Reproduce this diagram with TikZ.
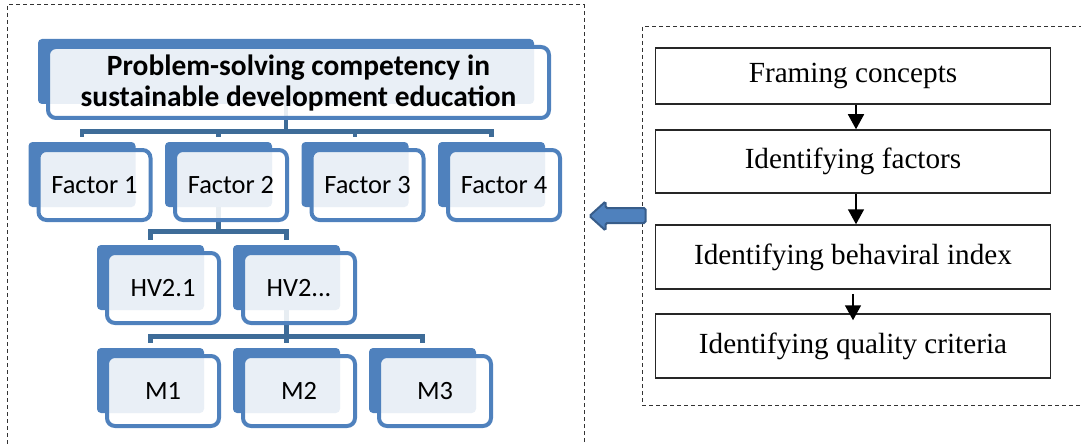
\documentclass[tikz,border=0pt]{standalone}
\usepackage{fontspec}
\setmainfont{Liberation Serif}
\newfontfamily\calibri{Carlito}
\usepackage{tikz}
\usetikzlibrary{positioning,calc,arrows.meta,backgrounds}
\definecolor{smblue}{RGB}{79,129,189}
\definecolor{smline}{RGB}{62,108,152}
\definecolor{smedge}{RGB}{56,93,138}

\begin{document}
\begin{tikzpicture}[x=0.5pt,y=-0.5pt,
    frame/.style={rectangle, draw=black!80, dash pattern=on 2pt off 1.5pt, line width=0.5pt, inner sep=0pt},
    back/.style={rectangle, fill=smblue, rounded corners=2pt, minimum width=53.5pt, minimum height=32.5pt, inner sep=0pt},
    front/.style={rectangle, draw=smblue, line width=2pt, fill=white, fill opacity=0.88, text opacity=1, rounded corners=4pt, minimum width=56pt, minimum height=35pt, inner sep=0pt, font=\calibri\fontsize{13.2}{15}\selectfont},
    conn/.style={draw=smline, line width=2.2pt, shorten >=2.5pt},
    stepbox/.style={rectangle, draw=black!85, line width=0.75pt, minimum width=197.5pt, inner sep=0pt, font=\fontsize{14.6}{17}\selectfont},
    flow/.style={-{Triangle[width=8pt,length=7.5pt]}, line width=0.8pt},
    bigarrow/.style={fill=smblue, draw=smedge, line width=1pt, rounded corners=0.8pt}
]
    \useasboundingbox (0,0) rectangle (1081,444);

    % dashed frames
    \node[frame, minimum width=288.5pt, minimum height=227.5pt] (hierarchy) at (295.5,232.5) {};
    \node[frame, minimum width=224pt, minimum height=189pt] (steps) at (866,216) {};

    % competency hierarchy
    \node[back, minimum width=248pt] (tb) at (286,71.5) {};
    \node[front, minimum width=250.5pt, minimum height=35.5pt, align=center,
          font=\calibri\bfseries\fontsize{14.7}{15.5}\selectfont] (title) at (298.5,82.5)
          {Problem-solving competency in\\sustainable development education};

    \node[back] (f1b) at (82,174.5) {};
    \node[front] (f1) at (94.5,185) {Factor 1};
    \node[back] (f2b) at (218.5,174.5) {};
    \node[front] (f2) at (231,185) {Factor 2};
    \node[back] (f3b) at (355,174.5) {};
    \node[front] (f3) at (367.5,185) {Factor 3};
    \node[back] (f4b) at (491.5,174.5) {};
    \node[front] (f4) at (504,185) {Factor 4};

    \node[back] (hv1b) at (150.5,277.5) {};
    \node[front] (hv1) at (163,288) {HV2.1};
    \node[back] (hv2b) at (286.5,277.5) {};
    \node[front] (hv2) at (299,288) {HV2...};

    \node[back] (m1b) at (150.5,380.5) {};
    \node[front] (m1) at (163,391) {M1};
    \node[back] (m2b) at (286.5,380.5) {};
    \node[front] (m2) at (299,391) {M2};
    \node[back] (m3b) at (422.5,380.5) {};
    \node[front] (m3) at (435,391) {M3};

    \begin{scope}[on background layer]
        \draw[conn] (tb.south) -- ++(0,27) -| (f1b.north);
        \draw[conn] (tb.south) -- ++(0,27) -| (f2b.north);
        \draw[conn] (tb.south) -- ++(0,27) -| (f3b.north);
        \draw[conn] (tb.south) -- ++(0,27) -| (f4b.north);
        \draw[conn] (f2b.south) -- ++(0,24) -| (hv1b.north);
        \draw[conn] (f2b.south) -- ++(0,24) -| (hv2b.north);
        \draw[conn] (hv2b.south) -- ++(0,26) -| (m1b.north);
        \draw[conn] (hv2b.south) -- ++(0,26) -| (m2b.north);
        \draw[conn] (hv2b.south) -- ++(0,26) -| (m3b.north);
    \end{scope}

    % steps
    \node[stepbox, minimum height=28pt] (s1) at (853,76) {Framing concepts};
    \node[stepbox, minimum height=31.5pt] (s2) at (853,161.5) {Identifying factors};
    \node[stepbox, minimum height=32pt] (s3) at (853,257) {Identifying behaviral index};
    \node[stepbox, minimum height=32pt] (s4) at (853,346) {Identifying quality criteria};

    \draw[flow] ([xshift=1.5pt]s1.south) -- ([xshift=1.5pt]s2.north);
    \draw[flow] ([xshift=1.5pt]s2.south) -- ([xshift=1.5pt]s3.north);
    \draw[flow] ([yshift=-2pt]s3.south) -- ([yshift=-3.5pt]s4.north);

    % arrow back to the hierarchy
    \draw[bigarrow, shift={(steps.west)}] (4,-8) -- (-36,-8) -- (-36,-14.5) -- (-52,0)
        -- (-36,14.5) -- (-36,7) -- (4,7) -- cycle;
\end{tikzpicture}
\end{document}
